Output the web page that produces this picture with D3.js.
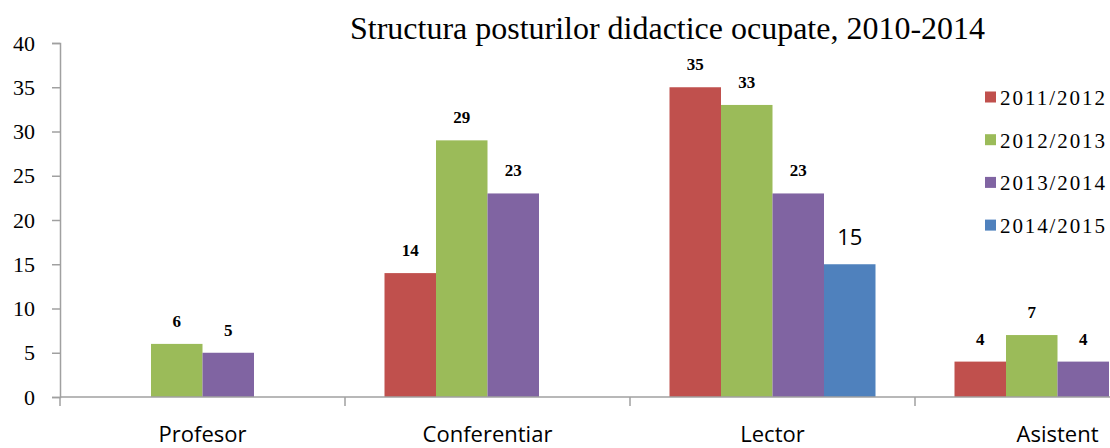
<!DOCTYPE html>
<html>
<head>
<meta charset="utf-8">
<script src="https://cdn.jsdelivr.net/npm/d3@7"></script>
<style>
  body { margin: 0; background: #fff; }
  svg { display: block; overflow: hidden; }
</style>
</head>
<body>
<div id="chart"></div>
<script>
var width = 1110, height = 448;

// data
var categories = ["Profesor", "Conferentiar", "Lector", "Asistent"];
var seriesNames = ["2011/2012", "2012/2013", "2013/2014", "2014/2015"];
var values2011 = [null, 14, 35, 4];
var values2012 = [6, 29, 33, 7];
var values2013 = [5, 23, 23, 4];
var values2014 = [null, null, 15, null];
var yTicks = [0, 5, 10, 15, 20, 25, 30, 35, 40];

var seriesValues = [values2011, values2012, values2013, values2014];
var colors = ["#c0504d", "#9bbb59", "#8064a2", "#4f81bd"];

var svg = d3.select("#chart").append("svg")
  .attr("width", width).attr("height", height);

// the original chart is cut off on the right, so the plot runs past the edge
var x = d3.scaleBand().domain(categories).range([60, 1200]);
var xSub = d3.scaleBand().domain(seriesNames).range([39.5, 245.5]);
var y = d3.scaleLinear().domain([0, 40]).range([397, 43]);

// title
svg.append("text")
  .attr("x", 350).attr("y", 39)
  .attr("textLength", 635).attr("lengthAdjust", "spacingAndGlyphs")
  .style("font-family", "'Liberation Serif', serif")
  .style("font-size", "31px")
  .style("fill", "#000")
  .text("Structura posturilor didactice ocupate, 2010-2014");

// bars
var rows = [];
seriesValues.forEach(function(vals, si) {
  vals.forEach(function(v, ci) {
    if (v != null) rows.push({ s: si, c: categories[ci], v: v });
  });
});

svg.append("g").selectAll("rect")
  .data(rows).enter().append("rect")
  .attr("x", d => x(d.c) + xSub(seriesNames[d.s]))
  .attr("y", d => y(d.v))
  .attr("width", xSub.bandwidth())
  .attr("height", d => y(0) - y(d.v))
  .attr("fill", d => colors[d.s]);

// value labels (the last series uses a plain sans label)
svg.append("g").selectAll("text")
  .data(rows).enter().append("text")
  .attr("x", d => x(d.c) + xSub(seriesNames[d.s]) + xSub.bandwidth() / 2)
  .attr("y", d => y(d.v) - (d.s === 3 ? 19 : 17))
  .attr("text-anchor", "middle")
  .style("font-family", d => d.s === 3 ? "'Open Sans', sans-serif" : "'Liberation Serif', serif")
  .style("font-weight", d => d.s === 3 ? "normal" : "bold")
  .style("font-size", d => d.s === 3 ? "22px" : "17px")
  .style("fill", "#000")
  .text(d => d.v);

// y axis
var yAxis = svg.append("g")
  .attr("transform", "translate(60,0)")
  .call(d3.axisLeft(y).tickValues(yTicks).tickSize(8).tickPadding(17));
yAxis.select(".domain").attr("stroke", "#a0a0a0").attr("stroke-width", 1.5);
yAxis.selectAll(".tick line").attr("stroke", "#a0a0a0").attr("stroke-width", 1.5);
yAxis.selectAll(".tick text")
  .style("font-family", "'Liberation Serif', serif")
  .style("font-size", "22px")
  .style("fill", "#000");

// x axis line and category separators
var xAxis = svg.append("g")
  .attr("transform", "translate(0," + y(0) + ")");
xAxis.append("line")
  .attr("x1", 60).attr("x2", 1200)
  .attr("stroke", "#a0a0a0").attr("stroke-width", 1.5);
xAxis.selectAll(".sep")
  .data(categories).enter().append("line")
  .attr("class", "sep")
  .attr("x1", d => x(d)).attr("x2", d => x(d))
  .attr("y1", 0).attr("y2", 9)
  .attr("stroke", "#a0a0a0").attr("stroke-width", 1.5);
xAxis.selectAll(".cat")
  .data(categories).enter().append("text")
  .attr("x", d => x(d) + x.bandwidth() / 2)
  .attr("y", 45)
  .attr("text-anchor", "middle")
  .style("font-family", "'Open Sans', sans-serif")
  .style("font-size", "22px")
  .style("fill", "#000")
  .text(d => d);

// legend
var legend = svg.append("g").attr("transform", "translate(985,0)");
var legendRows = legend.selectAll("g")
  .data(seriesNames).enter().append("g")
  .attr("transform", (d, i) => "translate(0," + (97 + i * 42.7) + ")");
legendRows.append("rect")
  .attr("x", 0).attr("y", -5.5)
  .attr("width", 11).attr("height", 11)
  .attr("fill", (d, i) => colors[i]);
legendRows.append("text")
  .attr("x", 15).attr("y", 8)
  .attr("textLength", 105)
  .style("font-family", "'Liberation Serif', serif")
  .style("font-size", "21px")
  .style("fill", "#000")
  .text(d => d);
</script>
</body>
</html>
